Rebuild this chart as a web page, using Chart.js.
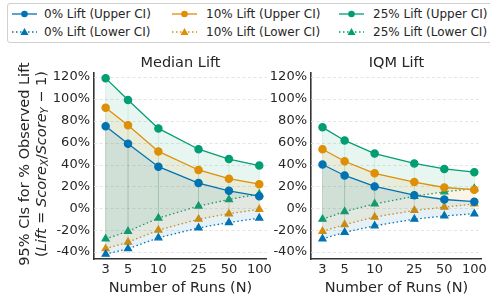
<!DOCTYPE html>
<html>
<head>
<meta charset="utf-8">
<script src="https://cdn.jsdelivr.net/npm/chart.js@4.4.1/dist/chart.umd.min.js"></script>
<style>
  body { margin: 0; background: #fff; width: 490px; height: 299px; overflow: hidden; position: relative;
         font-family: "DejaVu Sans", sans-serif; color: #262626; }
  #legend { position: absolute; left: 7px; top: 3px; width: 490px; height: 38px;
            border: 1px solid #d0d0d0; border-radius: 3px; }
  .item { position: absolute; font-size: 12px; line-height: 14px; white-space: nowrap; }
  .item svg { position: absolute; top: 2px; }
  .item span { position: absolute; top: 0; }
  #wrapL { position: absolute; left: 0; top: 45px; width: 275px; height: 254px; }
  #wrapR { position: absolute; left: 250px; top: 45px; width: 240px; height: 254px; }
</style>
</head>
<body>
<div id="legend"></div>
<div id="wrapL"><canvas id="chartL"></canvas></div>
<div id="wrapR"><canvas id="chartR"></canvas></div>
<script>
var runs = [3, 5, 10, 25, 50, 100];
var yTicks = [-40, -20, 0, 20, 40, 60, 80, 100, 120];

// Median lift, values in %
var medianUpper0 = [75, 59, 38, 23, 16, 11];
var medianLower0 = [-42, -37, -27, -18, -13, -9];
var medianUpper10 = [92, 76, 52, 35, 27, 22];
var medianLower10 = [-37, -31, -20, -10, -5, -1];
var medianUpper25 = [119, 99, 73, 54, 45, 39];
var medianLower25 = [-28, -21, -9, 2, 8, 13];

// IQM lift, values in %
var iqmUpper0 = [40, 30, 20, 12, 8, 6];
var iqmLower0 = [-28, -22, -16, -10, -7, -5];
var iqmUpper10 = [54, 43, 32, 24, 19, 17];
var iqmLower10 = [-21, -15, -8, -2, 1, 4];
var iqmUpper25 = [74, 62, 50, 41, 36, 33];
var iqmLower25 = [-10, -3, 4, 11, 15, 18];

var colors = ['#0173b2', '#de8f05', '#029e73'];
var fills = ['rgba(1,115,178,0.10)', 'rgba(222,143,5,0.10)', 'rgba(2,158,115,0.09)'];
var liftNames = ['0% Lift', '10% Lift', '25% Lift'];

Chart.defaults.font.family = '"DejaVu Sans", sans-serif';
Chart.defaults.color = '#262626';
Chart.defaults.animation = false;

function pts(arr) {
  return arr.map(function (v, i) { return { x: runs[i], y: v }; });
}

function makeDatasets(pairs) {
  var ds = [];
  for (var k = 0; k < pairs.length; k++) {
    ds.push({
      label: liftNames[k] + ' (Upper CI)',
      data: pts(pairs[k][0]),
      borderColor: colors[k], backgroundColor: fills[k],
      pointBackgroundColor: colors[k], pointBorderColor: colors[k],
      borderWidth: 1.3, pointRadius: 3.6, pointStyle: 'circle',
      fill: '+1', tension: 0
    });
    ds.push({
      label: liftNames[k] + ' (Lower CI)',
      data: pts(pairs[k][1]),
      borderColor: colors[k], backgroundColor: colors[k],
      pointBackgroundColor: colors[k], pointBorderColor: colors[k],
      borderWidth: 1.3, borderDash: [1.5, 2.5], pointRadius: 4, pointStyle: 'triangle',
      fill: false, tension: 0
    });
  }
  return ds;
}

// dashed grid + faint vertical lines joining each upper and lower point
var underlay = {
  id: 'underlay',
  beforeDatasetsDraw: function (chart) {
    var ctx = chart.ctx, a = chart.chartArea, y = chart.scales.y;
    ctx.save();
    ctx.strokeStyle = '#dddddd';
    ctx.lineWidth = 0.8;
    ctx.setLineDash([3, 2.5]);
    yTicks.forEach(function (v) {
      var py = Math.round(y.getPixelForValue(v)) + 0.5;
      ctx.beginPath();
      ctx.moveTo(a.left, py);
      ctx.lineTo(a.right, py);
      ctx.stroke();
    });
    ctx.setLineDash([]);
    for (var k = 0; k < 3; k++) {
      var up = chart.getDatasetMeta(2 * k).data;
      var lo = chart.getDatasetMeta(2 * k + 1).data;
      ctx.strokeStyle = colors[k];
      ctx.globalAlpha = 0.13;
      ctx.lineWidth = 1;
      for (var j = 0; j < up.length; j++) {
        ctx.beginPath();
        ctx.moveTo(up[j].x, up[j].y);
        ctx.lineTo(lo[j].x, lo[j].y);
        ctx.stroke();
      }
    }
    ctx.restore();
  }
};

// panel title centred over the plot area
var panelTitle = {
  id: 'panelTitle',
  afterDraw: function (chart, args, opts) {
    var ctx = chart.ctx, a = chart.chartArea;
    ctx.save();
    ctx.fillStyle = '#262626';
    ctx.font = '14.5px "DejaVu Sans"';
    ctx.textAlign = 'center';
    ctx.textBaseline = 'middle';
    ctx.fillText(opts.text, (a.left + a.right) / 2, 18.5);
    ctx.restore();
  }
};

// two line y label with italic and subscripts
var yLabel = {
  id: 'yLabel',
  afterDraw: function (chart) {
    var ctx = chart.ctx;
    var a = chart.chartArea;
    var cy = (a.top + a.bottom) / 2 - 2;
    ctx.save();
    ctx.fillStyle = '#262626';
    ctx.textBaseline = 'middle';
    ctx.translate(25, cy);
    ctx.rotate(-Math.PI / 2);
    ctx.font = '14.5px "DejaVu Sans"';
    ctx.textAlign = 'center';
    ctx.fillText('95% CIs for % Observed Lift', 0, 0);

    var parts = [
      ['(', '14.5px "DejaVu Sans"', 0],
      ['Lift', 'italic 14.5px "DejaVu Sans"', 0],
      [' = ', '14.5px "DejaVu Sans"', 0],
      ['Score', 'italic 14.5px "DejaVu Sans"', 0],
      ['X', 'italic 10px "DejaVu Sans"', 3],
      ['/', '14.5px "DejaVu Sans"', 0],
      ['Score', 'italic 14.5px "DejaVu Sans"', 0],
      ['Y', 'italic 10px "DejaVu Sans"', 3],
      [' \u2212 1)', '14.5px "DejaVu Sans"', 0]
    ];
    var total = 0;
    parts.forEach(function (p) { ctx.font = p[1]; total += ctx.measureText(p[0]).width; });
    var x = -total / 2;
    ctx.textAlign = 'left';
    parts.forEach(function (p) {
      ctx.font = p[1];
      ctx.fillText(p[0], x, 17 + p[2]);
      x += ctx.measureText(p[0]).width;
    });
    ctx.restore();
  }
};

function makeChart(id, title, pairs, yWidth, padRight, extraPlugins) {
  return new Chart(document.getElementById(id), {
    type: 'line',
    data: { datasets: makeDatasets(pairs) },
    options: {
      responsive: true,
      maintainAspectRatio: false,
      layout: { padding: { left: 0, right: padRight, top: 28, bottom: 0 } },
      plugins: {
        legend: { display: false },
        tooltip: { enabled: false },
        title: { display: false },
        panelTitle: { text: title }
      },
      scales: {
        x: {
          type: 'logarithmic', min: 2.3, max: 119,
          afterBuildTicks: function (s) { s.ticks = runs.map(function (v) { return { value: v }; }); },
          afterFit: function (s) { s.height = 40; },
          ticks: { color: '#262626', font: { size: 13 }, padding: 3, autoSkip: false, maxRotation: 0,
                   callback: function (v) { return String(v); } },
          grid: { display: false, drawTicks: false },
          border: { display: true, color: '#333', width: 1.6 },
          title: { display: true, text: 'Number of Runs (N)', color: '#262626',
                   font: { size: 14.5 }, padding: { top: 0, bottom: 2.3 } }
        },
        y: {
          min: -46.4, max: 123.7,
          afterBuildTicks: function (s) { s.ticks = yTicks.map(function (v) { return { value: v }; }); },
          afterFit: function (s) { s.width = yWidth; },
          ticks: { color: '#262626', font: { size: 13 }, padding: 4,
                   callback: function (v) { return v + '%'; } },
          grid: { display: false, drawTicks: false },
          border: { display: true, color: '#333', width: 1.6 }
        }
      }
    },
    plugins: [underlay, panelTitle].concat(extraPlugins)
  });
}

makeChart('chartL', 'Median Lift',
  [[medianUpper0, medianLower0], [medianUpper10, medianLower10], [medianUpper25, medianLower25]],
  94, 7, [yLabel]);
makeChart('chartR', 'IQM Lift',
  [[iqmUpper0, iqmLower0], [iqmUpper10, iqmLower10], [iqmUpper25, iqmLower25]],
  61, 6, []);

// legend in html
var legend = document.getElementById('legend');
var colX = [[4, 36], [164, 198], [331, 365]];
var rowY = [3, 21];
for (var k = 0; k < 3; k++) {
  for (var r = 0; r < 2; r++) {
    var el = document.createElement('div');
    el.className = 'item';
    el.style.left = colX[k][0] + 'px';
    el.style.top = rowY[r] + 'px';
    var marker = r === 0
      ? '<circle cx="12.5" cy="5" r="3.3" fill="' + colors[k] + '"/>'
      : '<polygon points="12.5,1 16.5,8 8.5,8" fill="' + colors[k] + '"/>';
    var dash = r === 0 ? '' : ' stroke-dasharray="1.5,2.5"';
    el.innerHTML = '<svg width="25" height="10"><line x1="0" y1="5" x2="25" y2="5" stroke="' + colors[k] +
      '" stroke-width="1.3"' + dash + '/>' + marker + '</svg>' +
      '<span style="left:' + (colX[k][1] - colX[k][0]) + 'px">' + liftNames[k] + (r === 0 ? ' (Upper CI)' : ' (Lower CI)') + '</span>';
    legend.appendChild(el);
  }
}
</script>
</body>
</html>
